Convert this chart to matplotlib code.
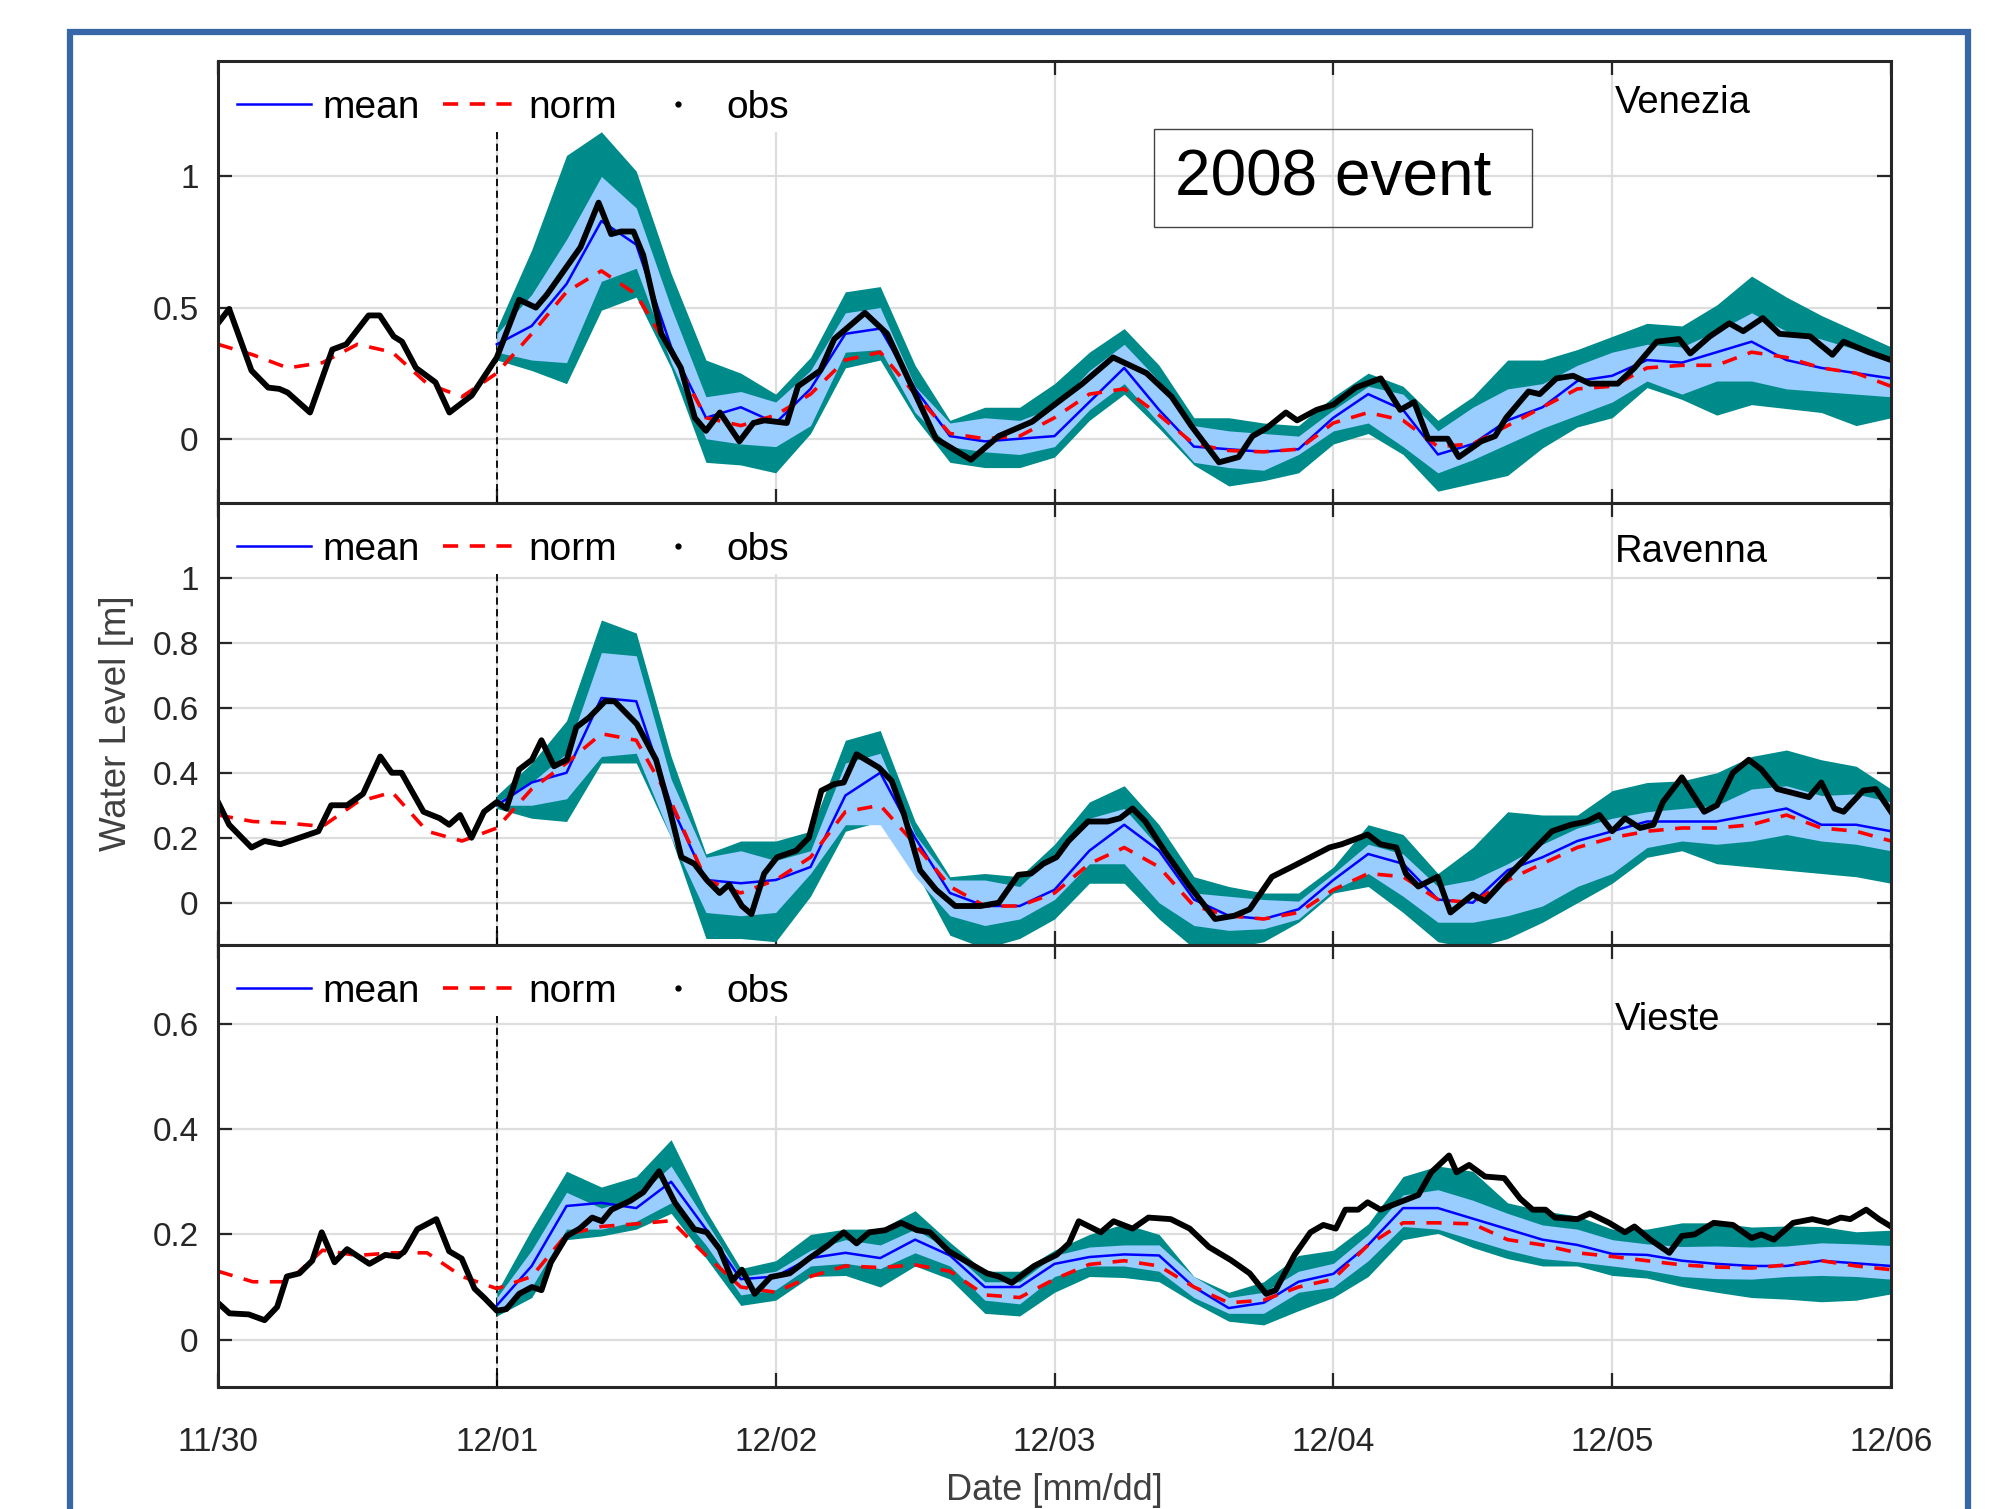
import numpy as np
import matplotlib
matplotlib.use("Agg")
import matplotlib.pyplot as plt
from matplotlib.lines import Line2D
from matplotlib.patches import Rectangle

plt.rcParams['font.family'] = ['Liberation Sans', 'DejaVu Sans']

###### DATA ######
# forecast ensemble runs from 12/01 to 12/06, values every 3 hours
fc_days = np.linspace(1, 6, 41)
# norm run from 11/30 to 12/06, every 3 hours
norm_days = np.linspace(0, 6, 49)
day_ticks = [0, 1, 2, 3, 4, 5, 6]
day_labels = ['11/30', '12/01', '12/02', '12/03', '12/04', '12/05', '12/06']

# --- Venezia ---
ven_mean = [0.36, 0.43, 0.59, 0.83, 0.74, 0.35, 0.08, 0.12,
            0.06, 0.19, 0.40, 0.42, 0.19, 0.01, -0.01, 0.00,
            0.01, 0.14, 0.27, 0.11, -0.03, -0.04, -0.05, -0.04,
            0.08, 0.17, 0.11, -0.06, -0.02, 0.07, 0.12, 0.22,
            0.24, 0.30, 0.29, 0.33, 0.37, 0.30, 0.27, 0.25,
            0.23]
ven_norm = [0.36, 0.32, 0.27, 0.29, 0.36, 0.33, 0.21, 0.16,
            0.25, 0.40, 0.56, 0.64, 0.55, 0.33, 0.08, 0.05,
            0.09, 0.17, 0.30, 0.33, 0.17, 0.02, 0.00, 0.01,
            0.08, 0.17, 0.19, 0.09, -0.02, -0.045, -0.05, -0.04,
            0.06, 0.10, 0.07, -0.03, -0.02, 0.05, 0.12, 0.19,
            0.20, 0.27, 0.28, 0.28, 0.33, 0.31, 0.27, 0.25,
            0.20]
ven_out_hi = [0.42, 0.72, 1.08, 1.17, 1.02, 0.63, 0.30, 0.25,
              0.17, 0.31, 0.56, 0.58, 0.28, 0.07, 0.12, 0.12,
              0.21, 0.33, 0.42, 0.28, 0.08, 0.08, 0.06, 0.05,
              0.16, 0.25, 0.20, 0.07, 0.16, 0.30, 0.30, 0.34,
              0.39, 0.44, 0.43, 0.51, 0.62, 0.54, 0.47, 0.41,
              0.35]
ven_out_lo = [0.30, 0.26, 0.21, 0.49, 0.54, 0.27, -0.09, -0.10,
              -0.13, 0.02, 0.27, 0.30, 0.08, -0.09, -0.11, -0.11,
              -0.07, 0.07, 0.17, 0.04, -0.10, -0.18, -0.16, -0.13,
              -0.02, 0.02, -0.06, -0.20, -0.17, -0.14, -0.035, 0.045,
              0.08, 0.195, 0.15, 0.09, 0.13, 0.115, 0.10, 0.05,
              0.08]
ven_in_hi = [0.40, 0.55, 0.76, 1.00, 0.88, 0.50, 0.16, 0.18,
             0.14, 0.26, 0.48, 0.50, 0.20, 0.06, 0.08, 0.07,
             0.12, 0.26, 0.36, 0.22, 0.05, 0.03, 0.02, 0.01,
             0.11, 0.20, 0.17, 0.03, 0.12, 0.19, 0.21, 0.28,
             0.33, 0.36, 0.35, 0.41, 0.48, 0.41, 0.38, 0.34,
             0.31]
ven_in_lo = [0.33, 0.30, 0.29, 0.60, 0.65, 0.29, 0.00, -0.02,
             -0.03, 0.05, 0.33, 0.34, 0.10, -0.03, -0.05, -0.06,
             -0.03, 0.11, 0.21, 0.06, -0.09, -0.11, -0.12, -0.06,
             0.03, 0.06, -0.03, -0.13, -0.08, -0.02, 0.04, 0.09,
             0.14, 0.22, 0.17, 0.22, 0.22, 0.19, 0.18, 0.17,
             0.16]
ven_obs = [(0.0, 0.44), (0.04, 0.495), (0.12, 0.26), (0.18, 0.195), (0.22, 0.19),
           (0.25, 0.176), (0.33, 0.10), (0.41, 0.34), (0.46, 0.36), (0.54, 0.47),
           (0.58, 0.47), (0.63, 0.39), (0.66, 0.37), (0.71, 0.27), (0.78, 0.215),
           (0.83, 0.10), (0.91, 0.165), (1.0, 0.31), (1.08, 0.53), (1.14, 0.50),
           (1.18, 0.55), (1.23, 0.625), (1.30, 0.73), (1.365, 0.90), (1.41, 0.78),
           (1.445, 0.79), (1.49, 0.79), (1.525, 0.70), (1.59, 0.40), (1.66, 0.27),
           (1.71, 0.08), (1.75, 0.03), (1.80, 0.10), (1.87, -0.01), (1.92, 0.06),
           (1.96, 0.07), (2.04, 0.06), (2.08, 0.20), (2.16, 0.26), (2.21, 0.38),
           (2.32, 0.48), (2.40, 0.40), (2.575, 0.0), (2.70, -0.08), (2.80, 0.01),
           (2.92, 0.065), (3.0, 0.13), (3.10, 0.21), (3.21, 0.31), (3.33, 0.25),
           (3.42, 0.16), (3.49, 0.05), (3.59, -0.09), (3.66, -0.07), (3.71, 0.01),
           (3.76, 0.04), (3.83, 0.10), (3.87, 0.07), (3.94, 0.11), (4.0, 0.13),
           (4.08, 0.195), (4.17, 0.23), (4.24, 0.11), (4.29, 0.14), (4.34, 0.0),
           (4.41, 0.0), (4.45, -0.07), (4.53, -0.01), (4.58, 0.01), (4.62, 0.08),
           (4.70, 0.18), (4.74, 0.17), (4.80, 0.23), (4.86, 0.24), (4.92, 0.21),
           (5.02, 0.21), (5.08, 0.27), (5.16, 0.37), (5.24, 0.38), (5.28, 0.325),
           (5.35, 0.39), (5.42, 0.44), (5.47, 0.41), (5.54, 0.46), (5.60, 0.40),
           (5.71, 0.39), (5.79, 0.32), (5.83, 0.37), (5.92, 0.33), (6.0, 0.30)]

# --- Ravenna ---
rav_mean = [0.30, 0.37, 0.40, 0.63, 0.62, 0.30, 0.07, 0.06,
            0.07, 0.11, 0.33, 0.40, 0.20, 0.03, -0.01, -0.01,
            0.04, 0.16, 0.24, 0.16, 0.01, -0.04, -0.05, -0.02,
            0.07, 0.15, 0.12, 0.01, 0.00, 0.10, 0.14, 0.19,
            0.22, 0.25, 0.25, 0.25, 0.27, 0.29, 0.24, 0.24,
            0.22]
rav_norm = [0.27, 0.25, 0.245, 0.235, 0.31, 0.34, 0.22, 0.19,
            0.23, 0.35, 0.43, 0.52, 0.50, 0.31, 0.07, 0.03,
            0.07, 0.14, 0.28, 0.30, 0.18, 0.05, -0.01, -0.01,
            0.03, 0.12, 0.17, 0.11, -0.01, -0.04, -0.05, -0.03,
            0.04, 0.09, 0.08, 0.01, 0.00, 0.07, 0.12, 0.17,
            0.20, 0.22, 0.23, 0.23, 0.24, 0.27, 0.23, 0.22,
            0.19]
rav_out_hi = [0.33, 0.43, 0.56, 0.87, 0.83, 0.45, 0.15, 0.19,
              0.19, 0.22, 0.50, 0.53, 0.25, 0.08, 0.09, 0.08,
              0.18, 0.31, 0.36, 0.24, 0.08, 0.05, 0.03, 0.03,
              0.11, 0.24, 0.21, 0.09, 0.17, 0.28, 0.27, 0.27,
              0.345, 0.37, 0.375, 0.40, 0.45, 0.47, 0.44, 0.42,
              0.35]
rav_out_lo = [0.29, 0.26, 0.25, 0.43, 0.43, 0.20, -0.11, -0.11,
              -0.12, 0.02, 0.22, 0.25, 0.10, -0.10, -0.14, -0.11,
              -0.05, 0.06, 0.06, -0.05, -0.14, -0.14, -0.12, -0.06,
              0.03, 0.05, -0.03, -0.12, -0.14, -0.11, -0.06, 0.00,
              0.06, 0.14, 0.16, 0.12, 0.11, 0.10, 0.09, 0.08,
              0.06]
rav_in_hi = [0.31, 0.37, 0.46, 0.77, 0.76, 0.38, 0.14, 0.16,
             0.13, 0.16, 0.43, 0.46, 0.21, 0.07, 0.07, 0.05,
             0.15, 0.26, 0.29, 0.17, 0.03, 0.02, 0.01, 0.005,
             0.09, 0.18, 0.15, 0.05, 0.07, 0.12, 0.18, 0.23,
             0.26, 0.28, 0.29, 0.30, 0.35, 0.36, 0.33, 0.335,
             0.31]
rav_in_lo = [0.30, 0.30, 0.32, 0.45, 0.46, 0.20, -0.03, -0.04,
             -0.03, 0.09, 0.24, 0.24, 0.08, -0.04, -0.07, -0.05,
             0.01, 0.12, 0.12, 0.00, -0.07, -0.085, -0.08, -0.05,
             0.04, 0.09, 0.02, -0.06, -0.06, -0.04, -0.01, 0.05,
             0.09, 0.17, 0.19, 0.18, 0.19, 0.21, 0.19, 0.18,
             0.16]
rav_obs = [(0.0, 0.31), (0.04, 0.24), (0.12, 0.17), (0.167, 0.19), (0.224, 0.18),
           (0.292, 0.20), (0.36, 0.22), (0.406, 0.30), (0.463, 0.30), (0.52, 0.335),
           (0.582, 0.45), (0.623, 0.40), (0.658, 0.40), (0.737, 0.28), (0.795, 0.26),
           (0.829, 0.24), (0.868, 0.27), (0.909, 0.20), (0.954, 0.28), (1.0, 0.31),
           (1.034, 0.29), (1.08, 0.41), (1.126, 0.44), (1.16, 0.50), (1.205, 0.42),
           (1.251, 0.44), (1.285, 0.54), (1.331, 0.57), (1.388, 0.62), (1.422, 0.62),
           (1.502, 0.55), (1.571, 0.44), (1.616, 0.30), (1.662, 0.14), (1.708, 0.12),
           (1.753, 0.07), (1.799, 0.03), (1.833, 0.056), (1.879, -0.01), (1.913, -0.035),
           (1.959, 0.09), (2.005, 0.14), (2.073, 0.16), (2.119, 0.20), (2.164, 0.345),
           (2.21, 0.365), (2.244, 0.37), (2.29, 0.457), (2.37, 0.416), (2.416, 0.375),
           (2.461, 0.27), (2.518, 0.10), (2.575, 0.04), (2.644, -0.01), (2.735, -0.01),
           (2.80, 0.0), (2.87, 0.086), (2.916, 0.09), (2.96, 0.12), (3.007, 0.14),
           (3.05, 0.19), (3.12, 0.25), (3.19, 0.25), (3.235, 0.26), (3.28, 0.29),
           (3.326, 0.25), (3.394, 0.16), (3.485, 0.05), (3.576, -0.05), (3.645, -0.04),
           (3.70, -0.02), (3.78, 0.08), (3.85, 0.11), (3.918, 0.14), (3.986, 0.17),
           (4.03, 0.18), (4.123, 0.21), (4.169, 0.18), (4.226, 0.17), (4.26, 0.09),
           (4.305, 0.05), (4.374, 0.08), (4.42, -0.03), (4.50, 0.025), (4.544, 0.005),
           (4.624, 0.08), (4.715, 0.16), (4.784, 0.22), (4.852, 0.24), (4.909, 0.25),
           (4.954, 0.27), (5.0, 0.22), (5.046, 0.26), (5.10, 0.23), (5.148, 0.24),
           (5.182, 0.31), (5.25, 0.386), (5.33, 0.28), (5.376, 0.30), (5.433, 0.40),
           (5.49, 0.44), (5.535, 0.41), (5.592, 0.35), (5.638, 0.34), (5.706, 0.325),
           (5.75, 0.37), (5.797, 0.29), (5.83, 0.28), (5.90, 0.345), (5.945, 0.35),
           (6.0, 0.28)]

# --- Vieste ---
vie_mean = [0.065, 0.14, 0.254, 0.26, 0.25, 0.30, 0.21, 0.115,
            0.12, 0.155, 0.165, 0.155, 0.19, 0.16, 0.10, 0.10,
            0.144, 0.157, 0.162, 0.16, 0.10, 0.06, 0.07, 0.11,
            0.125, 0.18, 0.25, 0.25, 0.23, 0.21, 0.19, 0.18,
            0.163, 0.161, 0.15, 0.144, 0.14, 0.14, 0.15, 0.145,
            0.14]
vie_norm = [0.13, 0.11, 0.11, 0.17, 0.16, 0.165, 0.165, 0.12,
            0.097, 0.12, 0.20, 0.215, 0.22, 0.226, 0.16, 0.10,
            0.09, 0.12, 0.14, 0.137, 0.142, 0.13, 0.085, 0.08,
            0.115, 0.143, 0.15, 0.14, 0.10, 0.07, 0.075, 0.10,
            0.115, 0.18, 0.222, 0.222, 0.22, 0.19, 0.18, 0.165,
            0.158, 0.15, 0.142, 0.138, 0.136, 0.142, 0.15, 0.14,
            0.133]
vie_out_hi = [0.09, 0.21, 0.32, 0.29, 0.31, 0.38, 0.245, 0.135,
              0.15, 0.20, 0.21, 0.21, 0.245, 0.185, 0.13, 0.13,
              0.17, 0.20, 0.22, 0.20, 0.12, 0.09, 0.11, 0.16,
              0.17, 0.22, 0.31, 0.33, 0.32, 0.26, 0.245, 0.235,
              0.21, 0.21, 0.222, 0.222, 0.214, 0.216, 0.215, 0.205,
              0.208]
vie_out_lo = [0.045, 0.08, 0.19, 0.197, 0.21, 0.24, 0.155, 0.065,
              0.075, 0.12, 0.122, 0.10, 0.14, 0.115, 0.05, 0.045,
              0.09, 0.12, 0.118, 0.11, 0.07, 0.035, 0.028, 0.055,
              0.08, 0.12, 0.19, 0.202, 0.175, 0.154, 0.14, 0.14,
              0.122, 0.117, 0.101, 0.09, 0.08, 0.077, 0.072, 0.075,
              0.087]
vie_in_hi = [0.08, 0.17, 0.28, 0.25, 0.27, 0.33, 0.225, 0.12,
             0.13, 0.17, 0.19, 0.18, 0.21, 0.17, 0.11, 0.11,
             0.16, 0.176, 0.18, 0.18, 0.12, 0.08, 0.09, 0.13,
             0.145, 0.20, 0.275, 0.285, 0.265, 0.24, 0.218, 0.21,
             0.19, 0.182, 0.177, 0.178, 0.176, 0.178, 0.184, 0.182,
             0.179]
vie_in_lo = [0.055, 0.10, 0.21, 0.21, 0.225, 0.26, 0.18, 0.085,
             0.095, 0.14, 0.145, 0.135, 0.165, 0.14, 0.075, 0.068,
             0.12, 0.14, 0.14, 0.13, 0.08, 0.05, 0.05, 0.09,
             0.10, 0.15, 0.215, 0.21, 0.19, 0.17, 0.154, 0.148,
             0.14, 0.132, 0.12, 0.116, 0.115, 0.12, 0.122, 0.12,
             0.115]
vie_obs = [(0.0, 0.07), (0.041, 0.05), (0.11, 0.048), (0.167, 0.037), (0.212, 0.062),
           (0.247, 0.12), (0.292, 0.126), (0.338, 0.15), (0.372, 0.204), (0.418, 0.147),
           (0.463, 0.172), (0.543, 0.144), (0.60, 0.161), (0.646, 0.158), (0.669, 0.168),
           (0.715, 0.21), (0.783, 0.229), (0.829, 0.168), (0.874, 0.154), (0.92, 0.097),
           (0.954, 0.08), (1.0, 0.055), (1.034, 0.058), (1.08, 0.087), (1.126, 0.10),
           (1.16, 0.094), (1.194, 0.147), (1.251, 0.197), (1.297, 0.211), (1.342, 0.232),
           (1.377, 0.225), (1.411, 0.247), (1.479, 0.264), (1.525, 0.28), (1.582, 0.32),
           (1.639, 0.26), (1.708, 0.21), (1.753, 0.204), (1.799, 0.172), (1.845, 0.112),
           (1.879, 0.133), (1.925, 0.087), (1.982, 0.119), (2.05, 0.126), (2.119, 0.154),
           (2.187, 0.179), (2.244, 0.204), (2.29, 0.183), (2.336, 0.204), (2.393, 0.208),
           (2.45, 0.222), (2.507, 0.208), (2.553, 0.204), (2.621, 0.168), (2.689, 0.147),
           (2.758, 0.126), (2.80, 0.12), (2.847, 0.108), (2.927, 0.14), (3.007, 0.161),
           (3.052, 0.183), (3.087, 0.225), (3.166, 0.204), (3.212, 0.225), (3.28, 0.211),
           (3.337, 0.232), (3.417, 0.229), (3.485, 0.211), (3.554, 0.176), (3.633, 0.151),
           (3.70, 0.126), (3.759, 0.087), (3.793, 0.094), (3.861, 0.161), (3.918, 0.204),
           (3.964, 0.218), (4.009, 0.211), (4.043, 0.247), (4.089, 0.247), (4.123, 0.261),
           (4.169, 0.247), (4.237, 0.261), (4.305, 0.275), (4.351, 0.318), (4.415, 0.35),
           (4.442, 0.318), (4.487, 0.332), (4.544, 0.31), (4.613, 0.307), (4.67, 0.268),
           (4.715, 0.247), (4.761, 0.247), (4.795, 0.232), (4.875, 0.229), (4.92, 0.24),
           (4.989, 0.222), (5.046, 0.204), (5.08, 0.215), (5.137, 0.19), (5.205, 0.165),
           (5.25, 0.197), (5.296, 0.20), (5.364, 0.222), (5.433, 0.218), (5.50, 0.193),
           (5.535, 0.20), (5.58, 0.19), (5.649, 0.222), (5.718, 0.229), (5.774, 0.222),
           (5.82, 0.232), (5.854, 0.229), (5.911, 0.247), (5.957, 0.229), (6.0, 0.215)]

stations = [
    ('Venezia', ven_mean, ven_norm, ven_out_hi, ven_out_lo, ven_in_hi, ven_in_lo, ven_obs,
     (-0.245, 1.44), [0, 0.5, 1], ['0', '0.5', '1'], 0.906),
    ('Ravenna', rav_mean, rav_norm, rav_out_hi, rav_out_lo, rav_in_hi, rav_in_lo, rav_obs,
     (-0.13, 1.23), [0, 0.2, 0.4, 0.6, 0.8, 1], ['0', '0.2', '0.4', '0.6', '0.8', '1'], 0.89),
    ('Vieste', vie_mean, vie_norm, vie_out_hi, vie_out_lo, vie_in_hi, vie_in_lo, vie_obs,
     (-0.09, 0.75), [0, 0.2, 0.4, 0.6], ['0', '0.2', '0.4', '0.6'], 0.83),
]

###### STYLE ######
TEAL = '#008B8B'
LIGHT = '#99CCFF'
FRAME = '#3767A9'
AXC = '#262626'
NORM_DASH = (4.2, 3.2)

W, H = 1997, 1509
fig = plt.figure(figsize=(W / 100, H / 100), dpi=100)

# outer blue frame (runs off the bottom edge)
fig.patches.append(Rectangle((70 / W, -0.05), (1968 - 70) / W, 1 - 32 / H + 0.05,
                             transform=fig.transFigure, fill=False,
                             edgecolor=FRAME, lw=4.5, zorder=0))

left, width = 218 / W, (1891 - 218) / W
height = 442 / H
bottoms = [1 - 503 / H, 1 - 945 / H, 1 - 1387 / H]

handles = [Line2D([], [], color='#0000FF', lw=1.8),
           Line2D([], [], color='#FF0000', lw=2.6, dashes=NORM_DASH),
           Line2D([], [], color='k', marker='.', ls='none', ms=7)]

for i, (name, mean, norm, ohi, olo, ihi, ilo, obs, ylim, yt, ytl, name_y) in enumerate(stations):
    ax = fig.add_axes([left, bottoms[i], width, height])
    ax.set_axisbelow(True)
    ax.grid(True, color='#dddddd', lw=1.6)

    ax.axvline(1, color='k', lw=1.3, dashes=(4, 2.5), zorder=1)

    ax.fill_between(fc_days, olo, ohi, color=TEAL, lw=0, zorder=2)
    ax.fill_between(fc_days, ilo, ihi, color=LIGHT, lw=0, zorder=3)
    ax.plot(fc_days, mean, color='#0000FF', lw=1.8, solid_joinstyle='round', zorder=4)
    ax.plot(norm_days, norm, color='#FF0000', lw=2.6, dashes=NORM_DASH, zorder=5)
    obs_t, obs_v = zip(*obs)
    ax.plot(obs_t, obs_v, color='k', lw=4.2, solid_joinstyle='round', zorder=6)

    ax.set_xlim(0, 6)
    ax.set_ylim(*ylim)
    ax.set_xticks(day_ticks)
    ax.set_yticks(yt)
    ax.set_yticklabels(ytl)
    if i == 2:
        ax.set_xticklabels(day_labels)
    else:
        ax.set_xticklabels([])
    ax.tick_params(axis='both', direction='in', length=10, width=1.6, color=AXC,
                   labelcolor=AXC, labelsize=24, top=True, right=True)
    ax.tick_params(axis='x', pad=29)
    ax.tick_params(axis='y', pad=14)
    for s in ax.spines.values():
        s.set_color(AXC)
        s.set_linewidth(2.2)
        s.set_zorder(12)

    # white legend area (covers grid and the 12/01 marker line)
    ax.add_patch(Rectangle((0, 1 - 71 / 442), 619 / 1673, 71 / 442, transform=ax.transAxes,
                           facecolor='white', edgecolor='none', zorder=7))
    leg = ax.legend(handles, ['mean', 'norm', 'obs'], loc='center left',
                    bbox_to_anchor=(0, 1 - 47 / 442), ncol=3, fontsize=28, frameon=False,
                    borderaxespad=0, borderpad=0.48,
                    handlelength=1.9, handletextpad=0.3, columnspacing=0.6)
    leg.set_zorder(8)

    ax.text(0.835, name_y, name, transform=ax.transAxes, fontsize=27.5,
            ha='left', va='center', color='k', zorder=9)

# annotation box
fig.patches.append(Rectangle((1154 / W, 1 - 227 / H), (1532 - 1154) / W, 98 / H,
                             transform=fig.transFigure, fill=False,
                             edgecolor='#444444', lw=1.0, zorder=10))
fig.text(1333 / W, 1 - 178 / H, '2008 event', fontsize=46, ha='center', va='center',
         color='k', zorder=11)

fig.text(117 / W, 1 - 723 / H, 'Water Level [m]', rotation=90, fontsize=26.5,
         ha='center', va='center', color='#404040')
fig.text(1054.5 / W, 1 - 1490 / H, 'Date [mm/dd]', fontsize=26,
         ha='center', va='center', color='#404040')

fig.savefig('out.png', dpi=100)
